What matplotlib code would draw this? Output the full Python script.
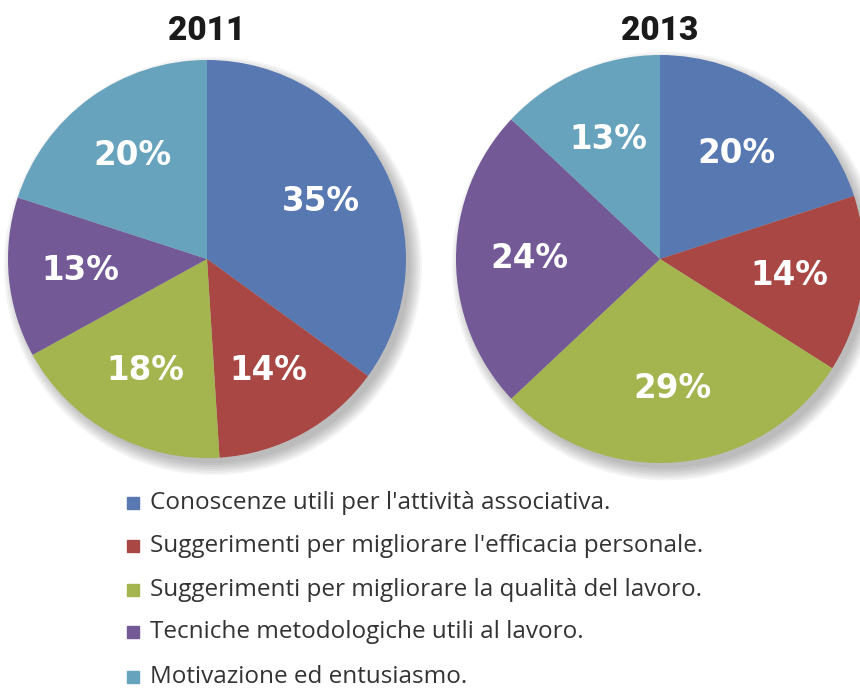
import matplotlib.pyplot as plt
from matplotlib.patches import Circle

years = ['2011', '2013']
values_2011 = [35, 14, 18, 13, 20]
values_2013 = [20, 14, 29, 24, 13]
categories = [
    "Conoscenze utili per l'attività associativa.",
    "Suggerimenti per migliorare l'efficacia personale.",
    "Suggerimenti per migliorare la qualità del lavoro.",
    "Tecniche metodologiche utili al lavoro.",
    "Motivazione ed entusiasmo.",
]
colors = ['#5878b2', '#a84743', '#a4b44e', '#735a97', '#68a3bd']

W, H = 860, 689
fig = plt.figure(figsize=(W / 100, H / 100), dpi=100)


def pie_axes(cx, cy, r):
    # pixel centre/radius -> axes box in figure fraction
    return fig.add_axes([(cx - r) / W, (H - cy - r) / H, 2 * r / W, 2 * r / H])


def draw_pie(ax, vals):
    # soft drop shadow, lower right
    for i in range(7):
        ax.add_patch(Circle((0.03, -0.035), 0.99 + 0.01 * i, color='#444444',
                            alpha=0.06, lw=0, zorder=0, clip_on=False))
    wedges, _, autotexts = ax.pie(vals, colors=colors, startangle=90, counterclock=False,
                                  autopct='%d%%', pctdistance=0.64,
                                  wedgeprops=dict(linewidth=0))
    for w in wedges:
        w.set_zorder(2)
    for t in autotexts:
        t.set_color('white')
        t.set_fontsize(23.5)
        t.set_fontweight('bold')
        t.set_family('DejaVu Sans')
        t.set_zorder(3)
    ax.set_xlim(-1, 1)
    ax.set_ylim(-1, 1)
    ax.set_aspect('equal')
    ax.axis('off')


ax1 = pie_axes(207, 259, 199)
draw_pie(ax1, values_2011)
ax2 = pie_axes(660, 259, 204)
draw_pie(ax2, values_2013)

# titles
for x, yr in zip([207, 660], years):
    fig.text(x / W, 1 - 31 / H, yr, ha='center', va='center', fontsize=24,
             fontweight='black', family=['Roboto', 'DejaVu Sans'], color='#1a1a1a')

# legend
rows_y = [503, 546, 590, 632, 677]
for y, c, lab in zip(rows_y, colors, categories):
    fig.patches.append(plt.Rectangle((127 / W, (H - y - 6) / H), 12 / W, 12 / H,
                                     transform=fig.transFigure, color=c))
    fig.text(150 / W, 1 - y / H, lab, ha='left', va='center', fontsize=17.5,
             family=['Open Sans', 'DejaVu Sans'], color='#333333')

fig.savefig('out.png', dpi=100, facecolor='white')
